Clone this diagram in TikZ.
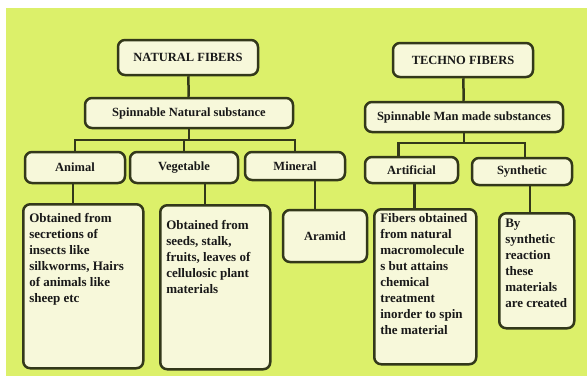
\documentclass[tikz,border=0pt]{standalone}
\usepackage{fontspec}
\setmainfont{Liberation Serif}
\definecolor{bgleaf}{HTML}{DCF06A}
\definecolor{boxcream}{HTML}{F7F8DA}
\definecolor{edgeolive}{HTML}{33381A}
\tikzset{
  fiberbox/.style={draw=edgeolive, fill=boxcream, line width=2.5pt, rounded corners=7pt,
    font=\bfseries\fontsize{12.5}{15}\selectfont, text=black!90, inner sep=0pt},
  descbox/.style={fiberbox, anchor=north west, inner xsep=6pt, inner ysep=0pt,
    font=\bfseries\fontsize{13}{16}\selectfont},
  link/.style={draw=edgeolive, line width=2.5pt}
}
% text block of a description box: width, height, top gap, lines
\newcommand{\fibertext}[4]{\parbox[c][#2][t]{#1}{\raggedright\vspace*{#3}#4}}

\begin{document}
\begin{tikzpicture}[x=1pt,y=-1pt]

  \useasboundingbox (0,0) rectangle (587,376);
  \fill[bgleaf] (6,8) rectangle (587,376);

  % natural side
  \node[fiberbox, minimum width=140, minimum height=35] (natural) at (188,57.5) {NATURAL FIBERS};
  \node[fiberbox, minimum width=208, minimum height=30] (spin_nat) at (189,113) {Spinnable Natural substance};
  \node[fiberbox, minimum width=100, minimum height=31] (animal) at (75,167.5) {Animal};
  \node[fiberbox, minimum width=108, minimum height=31] (vegetable) at (184,167.5) {Vegetable};
  \node[fiberbox, minimum width=100, minimum height=28] (mineral) at (295,166) {Mineral};

  \node[descbox] (animal_desc) at (22,203) {\fibertext{108pt}{164pt}{9pt}{Obtained from\\ secretions of\\ insects like\\ silkworms, Hairs\\ of animals like\\ sheep etc}};
  \node[descbox] (vegetable_desc) at (159,204) {\fibertext{98pt}{164pt}{15pt}{Obtained from\\ seeds, stalk,\\ fruits, leaves of\\ cellulosic plant\\ materials}};
  \node[fiberbox, minimum width=84, minimum height=52] (aramid) at (325,236) {Aramid};

  \coordinate (nat_bus) at (189,140);
  \draw[link] (natural) -- (spin_nat);
  \draw[link] (spin_nat) -- (nat_bus);
  \draw[link] (animal) |- (nat_bus) -| (mineral);
  \draw[link] (vegetable) -- (vegetable |- nat_bus);
  \draw[link] ([xshift=-2pt]animal.south) -- ([xshift=-2pt]animal.south |- animal_desc.north);
  \draw[link] ([xshift=21pt]vegetable.south) -- ([xshift=21pt]vegetable.south |- vegetable_desc.north);
  \draw[link] ([xshift=20pt]mineral.south) -- ([xshift=20pt]mineral.south |- aramid.north);

  % techno side
  \node[fiberbox, minimum width=140, minimum height=34] (techno) at (463,60) {TECHNO FIBERS};
  \node[fiberbox, minimum width=198, minimum height=30] (spin_man) at (464,117) {Spinnable Man made substances};
  \node[fiberbox, minimum width=93, minimum height=26] (artificial) at (411.5,170) {Artificial};
  \node[fiberbox, minimum width=100, minimum height=27] (synthetic) at (522,171.5) {Synthetic};

  \node[descbox] (artificial_desc) at (373,208) {\fibertext{90pt}{155pt}{4pt}{Fibers obtained\\ from natural\\ macromolecule\\ s but attains\\ chemical\\ treatment\\ inorder to spin\\ the material}};
  \node[descbox] (synthetic_desc) at (498,212) {\fibertext{63pt}{115pt}{6pt}{By\\ synthetic\\ reaction\\ these\\ materials\\ are created}};

  \coordinate (man_bus) at (464,143);
  \draw[link] (techno) -- (spin_man);
  \draw[link] (spin_man) -- (man_bus);
  \draw[link] ([xshift=-13pt]artificial.north) |- (man_bus) -| ([xshift=3pt]synthetic.north);
  \draw[link] ([xshift=3pt]artificial.south) -- ([xshift=3pt]artificial.south |- artificial_desc.north);
  \draw[link] ([xshift=8pt]synthetic.south) -- ([xshift=8pt]synthetic.south |- synthetic_desc.north);

\end{tikzpicture}
\end{document}
